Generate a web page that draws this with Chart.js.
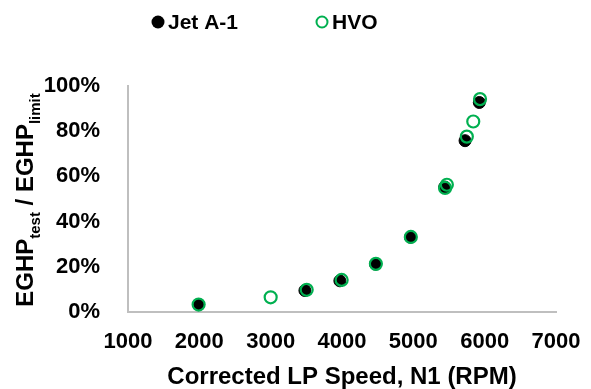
<!DOCTYPE html>
<html>
<head>
<meta charset="utf-8">
<script src="https://cdn.jsdelivr.net/npm/chart.js@4.4.1/dist/chart.umd.min.js"></script>
<style>
  body { margin: 0; background: #fff; }
  #wrap { width: 591px; height: 389px; }
</style>
</head>
<body>
<div id="wrap"><canvas id="chart" width="591" height="389"></canvas></div>
<script>
// readings
const seriesNames = ['Jet A-1', 'HVO'];
const jetSpeed = [1990, 3480, 3970, 4470, 4960, 5440, 5725, 5925];
const jetRatio = [0.033, 0.095, 0.138, 0.212, 0.331, 0.553, 0.758, 0.927];
const hvoSpeed = [1990, 3000, 3505, 3995, 4475, 4965, 5445, 5470, 5750, 5840, 5935];
const hvoRatio = [0.033, 0.065, 0.098, 0.142, 0.213, 0.332, 0.549, 0.563, 0.776, 0.843, 0.942];
const xTicks = [1000, 2000, 3000, 4000, 5000, 6000, 7000];
const yTicks = [0, 0.2, 0.4, 0.6, 0.8, 1.0];
const xTitle = 'Corrected LP Speed, N1 (RPM)';
const yTitleParts = [['EGHP', false], ['test', true], [' / EGHP', false], ['limit', true]];

const FONT = '"Liberation Sans", Arial, sans-serif';
const GREEN = '#00B050';
const AXIS = '#BFBFBF';

const toPoints = (xs, ys) => xs.map((x, i) => ({ x: x, y: ys[i] }));

// legend drawn by hand so the two items sit where the original has them
const topLegend = {
  id: 'topLegend',
  afterDraw(chart) {
    const ctx = chart.ctx;
    const spots = [158, 322];
    ctx.save();
    ctx.font = 'bold 21px ' + FONT;
    ctx.textBaseline = 'middle';
    chart.data.datasets.forEach((ds, i) => {
      const cx = spots[i], cy = 22;
      ctx.beginPath();
      if (ds.pointBackgroundColor === 'transparent') {
        ctx.arc(cx, cy, 5.5, 0, Math.PI * 2);
        ctx.lineWidth = 2;
        ctx.strokeStyle = ds.pointBorderColor;
        ctx.stroke();
      } else {
        ctx.arc(cx, cy, 6.5, 0, Math.PI * 2);
        ctx.fillStyle = ds.pointBackgroundColor;
        ctx.fill();
      }
      ctx.fillStyle = '#000';
      ctx.fillText(ds.label, cx + 10, cy + 1);
    });
    ctx.restore();
  }
};

// rotated y title with subscripts
const yTitle = {
  id: 'yTitle',
  afterDraw(chart) {
    const ctx = chart.ctx;
    const big = 'bold 24px ' + FONT, small = 'bold 15px ' + FONT;
    ctx.save();
    let total = 0;
    yTitleParts.forEach(([t, sub]) => { ctx.font = sub ? small : big; total += ctx.measureText(t).width; });
    ctx.translate(33, 200);
    ctx.rotate(-Math.PI / 2);
    ctx.fillStyle = '#000';
    ctx.textBaseline = 'alphabetic';
    let x = -total / 2;
    yTitleParts.forEach(([t, sub]) => {
      ctx.font = sub ? small : big;
      ctx.fillText(t, x, sub ? 7 : 0);
      x += ctx.measureText(t).width;
    });
    ctx.restore();
  }
};

new Chart(document.getElementById('chart'), {
  type: 'scatter',
  data: {
    datasets: [
      {
        label: seriesNames[0],
        data: toPoints(jetSpeed, jetRatio),
        pointRadius: 6,
        pointBackgroundColor: '#000',
        pointBorderColor: '#000',
        pointBorderWidth: 1,
        order: 2
      },
      {
        label: seriesNames[1],
        data: toPoints(hvoSpeed, hvoRatio),
        pointRadius: 6,
        pointBackgroundColor: 'transparent',
        pointBorderColor: GREEN,
        pointBorderWidth: 2.2,
        order: 1
      }
    ]
  },
  options: {
    responsive: false,
    animation: false,
    layout: { padding: { left: 0, right: 35, top: 86, bottom: 0 } },
    plugins: {
      legend: { display: false },
      tooltip: { enabled: false }
    },
    scales: {
      x: {
        type: 'linear',
        min: xTicks[0],
        max: xTicks[xTicks.length - 1],
        afterBuildTicks: (s) => { s.ticks = xTicks.map(v => ({ value: v })); },
        afterFit: (s) => { s.height = 77; s.paddingLeft = 0; s.paddingRight = 0; },
        grid: { display: false, drawTicks: false },
        border: { display: true, color: AXIS, width: 2 },
        ticks: {
          color: '#000',
          padding: 17,
          maxRotation: 0,
          autoSkip: false,
          font: { family: FONT, size: 22, weight: 'bold' },
          callback: (v) => String(v)
        },
        title: {
          display: true,
          text: xTitle,
          color: '#000',
          padding: { top: 0, bottom: 0 },
          font: { family: FONT, size: 24, weight: 'bold', lineHeight: 1 }
        }
      },
      y: {
        min: yTicks[0],
        max: yTicks[yTicks.length - 1],
        afterBuildTicks: (s) => { s.ticks = yTicks.map(v => ({ value: v })); },
        afterFit: (s) => { s.width = 128; s.paddingTop = 0; s.paddingBottom = 0; },
        grid: { display: false, drawTicks: false },
        border: { display: true, color: AXIS, width: 2 },
        ticks: {
          color: '#000',
          padding: 28,
          font: { family: FONT, size: 22, weight: 'bold' },
          callback: (v) => Math.round(v * 100) + '%'
        }
      }
    }
  },
  plugins: [topLegend, yTitle]
});
</script>
</body>
</html>
